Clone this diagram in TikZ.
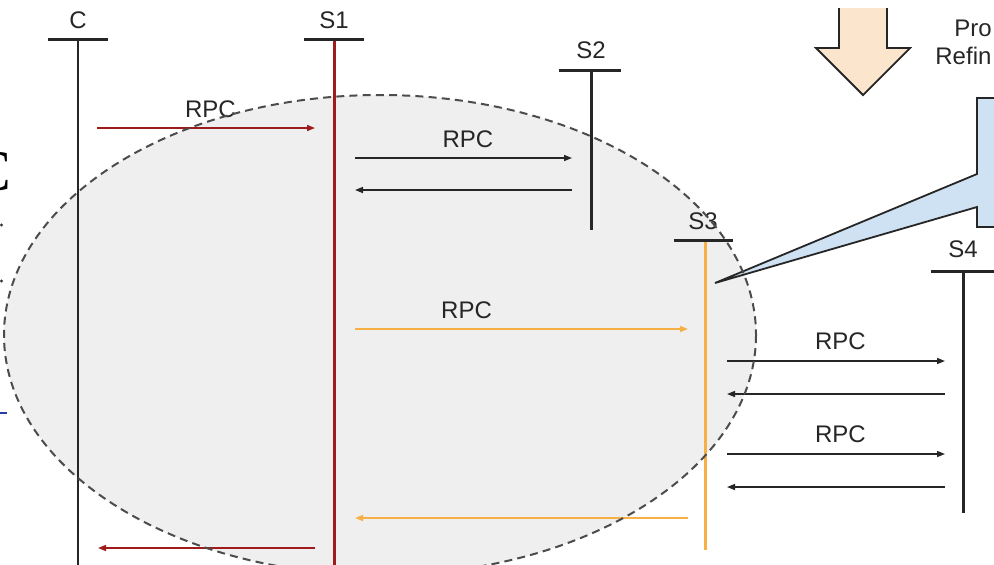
\documentclass[tikz,border=0pt]{standalone}
\usepackage{fontspec}
\setmainfont{Liberation Sans}
\newfontfamily\edgeserif{Liberation Serif}
\usepackage{tikz}
\usetikzlibrary{arrows.meta,positioning}
\definecolor{rpcred}{RGB}{158,28,28}
\definecolor{rpcorange}{RGB}{246,176,70}
\definecolor{zonegray}{RGB}{239,239,239}
\definecolor{calloutblue}{RGB}{207,226,243}
\definecolor{peach}{RGB}{252,229,205}
\definecolor{linkblue}{RGB}{40,60,170}
\tikzset{
  >={Triangle[length=4pt,width=3pt]},
  lbl/.style={font=\fontsize{12}{14}\selectfont,inner sep=0pt,text=black!85},
  headbar/.style={line width=1.5pt,black!85},
  life/.style={line width=1.5pt,black!85},
  lifethin/.style={line width=0.9pt,black!85},
  msg/.style={->,line width=0.75pt,black!85},
  msgred/.style={msg,rpcred},
  msgorange/.style={msg,rpcorange},
  zone/.style={dashed,dash pattern=on 4pt off 2.6pt,line width=1pt,black!70},
  shapeline/.style={line width=0.9pt,black!85,line join=miter},
}

\begin{document}
\begin{tikzpicture}[x=0.5pt,y=-0.5pt]
  \useasboundingbox (0,0) rectangle (994,564);
  \clip (0,0) rectangle (994,564);

  % shaded zone
  \fill[zonegray] (380,335) ellipse [x radius=376, y radius=240];

  % big arrow and callout
  \fill[peach] (839,8) -- (839,48) -- (816,48) -- (863,95) -- (910,48)
    -- (887,48) -- (887,8) -- cycle;
  \draw[shapeline] (839,8) -- (839,48) -- (816,48)
    -- (863,95) -- (910,48) -- (887,48) -- (887,8);
  \draw[shapeline,fill=calloutblue] (977,98) -- (977,174)
    -- (715,283) -- (977,207) -- (977,227) -- (1010,227) -- (1010,98) -- cycle;
  \node[lbl,anchor=base west] (pro) at (954,36) {Pro};
  \node[lbl,anchor=base west] (refin) at (935,64) {Refin};

  % lifelines
  \coordinate (cTop) at (78,39);   \coordinate (cEnd) at (78,570);
  \coordinate (s1Top) at (334,39); \coordinate (s1End) at (334,570);
  \coordinate (s2Top) at (591,70); \coordinate (s2End) at (591,230);
  \coordinate (s3Top) at (705,240); \coordinate (s3End) at (705,550);
  \coordinate (s4Top) at (963,271); \coordinate (s4End) at (963,513);

  \draw[lifethin] (cTop) -- (cEnd);
  \draw[life,rpcred] (s1Top) -- (s1End);
  \draw[life] (s2Top) -- (s2End);
  \draw[life,rpcorange] (s3Top) -- (s3End);
  \draw[life] (s4Top) -- (s4End);

  \draw[headbar] ([xshift=-15pt]cTop) -- ([xshift=15pt]cTop);
  \draw[headbar] ([xshift=-15pt]s1Top) -- ([xshift=15pt]s1Top);
  \draw[headbar] ([xshift=-16pt]s2Top) -- ([xshift=15pt]s2Top);
  \draw[headbar] ([xshift=-15.5pt]s3Top) -- ([xshift=14pt]s3Top);
  \draw[headbar] ([xshift=-16pt]s4Top) -- ([xshift=20pt]s4Top);

  \node[lbl,above=5pt of cTop] (cLbl) {C};
  \node[lbl,above=5pt of s1Top] (s1Lbl) {S1};
  \node[lbl,above=5.5pt of s2Top] (s2Lbl) {S2};
  \node[lbl,above=5pt of s3Top,xshift=-1pt] (s3Lbl) {S3};
  \node[lbl,above=6.5pt of s4Top] (s4Lbl) {S4};

  % messages
  \coordinate (r1a) at (97,128);  \coordinate (r1b) at (315,128);
  \coordinate (r2a) at (315,548); \coordinate (r2b) at (98,548);
  \coordinate (b1a) at (355,158); \coordinate (b1b) at (572,158);
  \coordinate (b2a) at (572,190); \coordinate (b2b) at (355,190);
  \coordinate (o1a) at (355,329); \coordinate (o1b) at (688,329);
  \coordinate (o2a) at (688,518); \coordinate (o2b) at (355,518);
  \coordinate (k1a) at (727,361); \coordinate (k1b) at (945,361);
  \coordinate (k2a) at (945,394); \coordinate (k2b) at (727,394);
  \coordinate (k3a) at (727,454); \coordinate (k3b) at (945,454);
  \coordinate (k4a) at (945,487); \coordinate (k4b) at (727,487);

  \draw[msgred] (r1a) -- node[lbl,pos=0.52,above=4.8pt] (rpcA) {RPC} (r1b);
  \draw[msgred] (r2a) -- (r2b);
  \draw[msg] (b1a) -- node[lbl,pos=0.52,above=4.6pt] (rpcB) {RPC} (b1b);
  \draw[msg] (b2a) -- (b2b);
  \draw[msgorange] (o1a) -- node[lbl,pos=0.335,above=4.6pt] (rpcC) {RPC} (o1b);
  \draw[msgorange] (o2a) -- (o2b);
  \draw[msg] (k1a) -- node[lbl,pos=0.52,above=5.2pt] (rpcD) {RPC} (k1b);
  \draw[msg] (k2a) -- (k2b);
  \draw[msg] (k3a) -- node[lbl,pos=0.52,above=5.2pt] (rpcE) {RPC} (k3b);
  \draw[msg] (k4a) -- (k4b);

  % zone border
  \draw[zone] (380,335) ellipse [x radius=376, y radius=240];

  % bits cut at the left edge
  \node[anchor=base east,inner sep=0pt,font=\edgeserif\fontsize{29}{29}\selectfont]
    (cutC) at (12,190) {C};
  \fill[black!80] (1.5,225) circle [radius=1.6];
  \fill[black!80] (1.5,281) circle [radius=1.6];
  \draw[linkblue,line width=0.8pt] (0,413) -- (7,413);
\end{tikzpicture}
\end{document}
